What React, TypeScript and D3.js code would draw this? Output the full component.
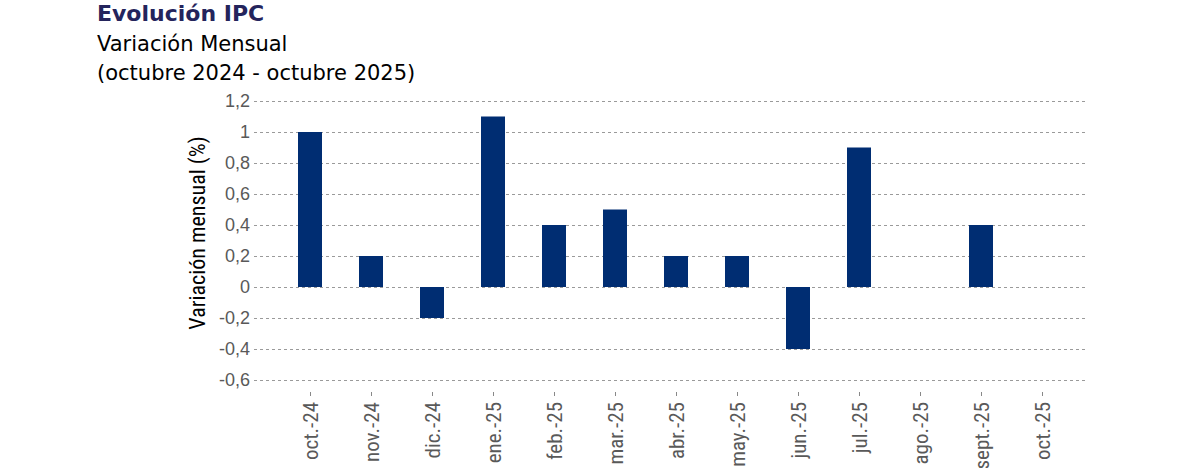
import * as d3 from "d3";
import { useEffect, useRef } from "react";

const months = [
  "oct.-24", "nov.-24", "dic.-24", "ene.-25", "feb.-25", "mar.-25", "abr.-25",
  "may.-25", "jun.-25", "jul.-25", "ago.-25", "sept.-25", "oct.-25",
];
const variacion = [1.0, 0.2, -0.2, 1.1, 0.4, 0.5, 0.2, 0.2, -0.4, 0.9, 0, 0.4, 0];
const yTicks = [1.2, 1, 0.8, 0.6, 0.4, 0.2, 0, -0.2, -0.4, -0.6];

const narrow = "'Liberation Sans Narrow', 'Arial Narrow', 'Roboto Condensed', sans-serif";

const App = () => {
  const ref = useRef<SVGSVGElement | null>(null);

  useEffect(() => {
    const svg = d3.select(ref.current);
    svg.selectAll("*").remove();

    const gridLeft = 254,
      gridRight = 1087;

    const y = d3.scaleLinear().domain([-0.6, 1.2]).range([380, 101]);
    const x = d3.scalePoint<string>().domain(months).range([310, 1042]);
    const barW = 24;

    // titles
    const title = svg.append("g").attr("font-family", "'DejaVu Sans', sans-serif");
    title
      .append("text")
      .attr("x", 97)
      .attr("y", 21)
      .attr("font-size", 22)
      .attr("font-weight", "bold")
      .attr("fill", "#24245c")
      .text("Evolución IPC");
    title
      .append("text")
      .attr("x", 97)
      .attr("y", 51)
      .attr("font-size", 21)
      .attr("fill", "#000")
      .text("Variación Mensual");
    title
      .append("text")
      .attr("x", 97)
      .attr("y", 80)
      .attr("font-size", 21)
      .attr("fill", "#000")
      .text("(octubre 2024 - octubre 2025)");

    // grid
    svg
      .append("g")
      .attr("transform", `translate(${gridLeft},0)`)
      .call(
        d3
          .axisLeft(y)
          .tickValues(yTicks)
          .tickSize(-(gridRight - gridLeft))
          .tickFormat("" as any)
      )
      .call((g) => g.select(".domain").remove())
      .selectAll("line")
      .attr("stroke", "#9a9a9a")
      .attr("stroke-dasharray", "3,3");

    // y axis labels
    svg
      .append("g")
      .attr("transform", `translate(${gridLeft},0)`)
      .call(
        d3
          .axisLeft(y)
          .tickValues(yTicks)
          .tickSize(0)
          .tickPadding(4)
          .tickFormat((d) => d3.format("")(d as number).replace(".", ",").replace("−", "-"))
      )
      .call((g) => g.select(".domain").remove())
      .selectAll("text")
      .attr("font-family", "'Liberation Sans', Arial, sans-serif")
      .attr("font-size", 18)
      .attr("fill", "#595959");

    svg
      .append("text")
      .attr("transform", `translate(197,233) rotate(-90)`)
      .attr("text-anchor", "middle")
      .attr("dy", "0.35em")
      .attr("font-family", narrow)
      .attr("font-size", 22)
      .attr("fill", "#000")
      .text("Variación mensual (%)");

    // bars
    svg
      .selectAll(".bar")
      .data(variacion.map((v, i) => ({ m: months[i], v })))
      .enter()
      .filter((d) => d.v !== 0)
      .append("rect")
      .attr("class", "bar")
      .attr("x", (d) => x(d.m)! - barW / 2)
      .attr("y", (d) => y(Math.max(0, d.v)))
      .attr("width", barW)
      .attr("height", (d) => Math.abs(y(d.v) - y(0)))
      .attr("fill", "#002d72");

    // x axis
    const xa = svg
      .append("g")
      .attr("transform", `translate(0,392)`)
      .call(d3.axisBottom(x).tickSize(4).tickPadding(4));
    xa.select(".domain").remove();
    xa.selectAll("line").attr("stroke", "#888");
    xa.selectAll("text")
      .attr("font-family", narrow)
      .attr("font-size", 21)
      .attr("fill", "#595959")
      .attr("text-anchor", "end")
      .attr("dy", "0.35em")
      .attr("transform", "translate(0,10) rotate(-90)")
      .attr("x", 0)
      .attr("y", 0);
  }, []);

  return (
    <svg
      ref={ref}
      width={1200}
      height={468}
      style={{ display: "block", position: "absolute", top: 0, left: 0 }}
    />
  );
};

export default App;
